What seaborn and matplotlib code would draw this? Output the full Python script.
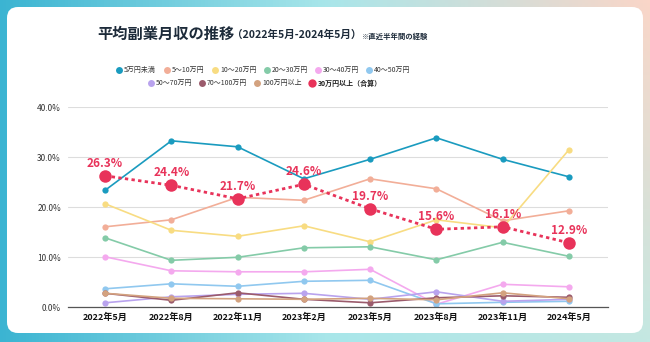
import numpy as np
import pandas as pd
import matplotlib
matplotlib.use("Agg")
import matplotlib.pyplot as plt
import seaborn as sns
from matplotlib.patches import FancyBboxPatch

sns.set_theme(style="white")
plt.rcParams['font.family'] = ['Noto Sans CJK JP', 'DejaVu Sans']

periods = ["2022年5月", "2022年8月", "2022年11月", "2023年2月",
           "2023年5月", "2023年8月", "2023年11月", "2024年5月"]

categories = ["5万円未満", "5～10万円", "10～20万円", "20～30万円", "30～40万円",
              "40～50万円", "50～70万円", "70～100万円", "100万円以上"]

v_under5 = [23.4, 33.3, 32.1, 25.7, 29.6, 33.9, 29.6, 26.1]
v_5_10 = [16.1, 17.5, 22.0, 21.4, 25.7, 23.7, 17.3, 19.3]
v_10_20 = [20.7, 15.4, 14.2, 16.3, 13.1, 17.5, 15.9, 31.5]
v_20_30 = [13.9, 9.4, 10.0, 11.9, 12.1, 9.5, 13.0, 10.2]
v_30_40 = [10.1, 7.3, 7.1, 7.1, 7.6, 0.6, 4.6, 4.1]
v_40_50 = [3.7, 4.7, 4.2, 5.2, 5.4, 0.7, 1.0, 1.2]
v_50_70 = [0.9, 2.1, 2.6, 2.8, 1.6, 3.1, 1.2, 1.6]
v_70_100 = [2.8, 1.4, 2.9, 1.6, 0.9, 1.9, 2.3, 2.0]
v_over100 = [2.8, 1.8, 1.7, 1.6, 1.8, 1.5, 2.9, 1.7]
v_over30_total = [26.3, 24.4, 21.7, 24.6, 19.7, 15.6, 16.1, 12.9]

series = [v_under5, v_5_10, v_10_20, v_20_30, v_30_40, v_40_50, v_50_70, v_70_100, v_over100]
colors = ["#1a9bbf", "#f2ae98", "#f8dc82", "#84cba8", "#f4a9ee",
          "#90c8ef", "#b9a3ee", "#9b5b6c", "#d3a27f"]
red = "#e8335a"
total_label = "30万円以上（合算）"

rows = []
for cat, vals in zip(categories, series):
    for i, v in enumerate(vals):
        rows.append({"idx": i, "val": v, "cat": cat})
df = pd.DataFrame(rows)
df_total = pd.DataFrame({"idx": range(len(periods)), "val": v_over30_total})

W, H = 650, 342
fig = plt.figure(figsize=(W / 100, H / 100), dpi=100)

# background gradient
bg = fig.add_axes([0, 0, 1, 1], zorder=0)
xs = np.linspace(0, 1, 200)
ys = np.linspace(0, 1, 100)
X, Y = np.meshgrid(xs, ys)
c_left = np.array([0x3b, 0xb4, 0xd2]) / 255
c_mid = np.array([0xa8, 0xe6, 0xea]) / 255
c_top_right = np.array([0xfa, 0xd6, 0xc8]) / 255
c_bot_right = np.array([0xc4, 0xe8, 0xe2]) / 255
t = X[..., None]
right = c_top_right * (1 - Y[..., None]) + c_bot_right * Y[..., None]
img = np.where(t < 0.5,
               c_left * (1 - 2 * t) + c_mid * (2 * t),
               c_mid * (2 - 2 * t) + right * (2 * t - 1))
bg.imshow(img, extent=[0, W, H, 0], aspect='auto')
bg.set_xlim(0, W)
bg.set_ylim(H, 0)
bg.axis('off')
card = FancyBboxPatch((7, 7), 636, 326, boxstyle="round,pad=0,rounding_size=11",
                      facecolor="white", edgecolor="none")
bg.add_patch(card)

# Title
bg.text(97, 34, "平均副業月収の推移", fontsize=11, fontweight='bold', color="#1d2b3a",
        va='center', ha='left')
bg.text(232, 35, "（2022年5月-2024年5月）", fontsize=7.6, fontweight='bold', color="#1d2b3a",
        va='center', ha='left')
bg.text(362, 36, "※直近半年間の経験", fontsize=5.3, fontweight='bold', color="#1d2b3a",
        va='center', ha='left')

# Legend (manual)
leg_row1 = [(119, 0), (167, 1), (215, 2), (267, 3), (318, 4), (369, 5)]
leg_row2 = [(151, 6), (202, 7), (257, 8)]
for x, k in leg_row1:
    bg.plot([x], [70], 'o', color=colors[k], markersize=5, markeredgewidth=0)
    bg.text(x + 5, 70, categories[k], fontsize=5, color="#333333", va='center', ha='left')
for x, k in leg_row2:
    bg.plot([x], [83], 'o', color=colors[k], markersize=5, markeredgewidth=0)
    bg.text(x + 5, 83, categories[k], fontsize=5, color="#333333", va='center', ha='left')
bg.plot([312], [83], 'o', color=red, markersize=6, markeredgewidth=0)
bg.text(318, 83, total_label, fontsize=5, fontweight='bold', color="#222222",
        va='center', ha='left')

# Main chart
ax = fig.add_axes([68 / W, 1 - 307.3 / H, (608 - 68) / W, 200 / H], zorder=2)
ax.set_facecolor("none")
sns.lineplot(data=df, x="idx", y="val", hue="cat", hue_order=categories,
             palette=dict(zip(categories, colors)), marker='o', markersize=4.5,
             markeredgewidth=0, linewidth=1.2, legend=False, ax=ax, clip_on=False)
sns.lineplot(data=df_total, x="idx", y="val", color=red, linestyle=(0, (1.2, 1.2)),
             linewidth=2.0, marker='o', markersize=9, markeredgewidth=0,
             legend=False, ax=ax, clip_on=False, zorder=5)
for i, v in enumerate(v_over30_total):
    ax.annotate(f"{v}%", (i, v), xytext=(0, 4.5), textcoords='offset points',
                ha='center', va='bottom', fontsize=8.5, fontweight='bold', color=red,
                zorder=6)

ax.set_xlim(-0.56, 7.59)
ax.set_ylim(0, 40)
ax.set_xticks(range(len(periods)))
ax.set_xticklabels(periods, fontsize=6.5, fontweight='bold', color="#111111")
ax.set_yticks([0, 10, 20, 30, 40])
ax.set_yticklabels([f"{v:.1f}%" for v in [0, 10, 20, 30, 40]], fontsize=6,
                   color="#333333")
ax.tick_params(axis='both', length=0)
ax.tick_params(axis='x', pad=4)
ax.tick_params(axis='y', pad=5)
ax.set_xlabel("")
ax.set_ylabel("")
ax.grid(axis='y', color="#dddddd", linewidth=0.8)
ax.set_axisbelow(True)
for s in ["left", "right", "top"]:
    ax.spines[s].set_visible(False)
ax.spines["bottom"].set_color("#555555")
ax.spines["bottom"].set_linewidth(0.9)

fig.savefig("out.png", dpi=100)
